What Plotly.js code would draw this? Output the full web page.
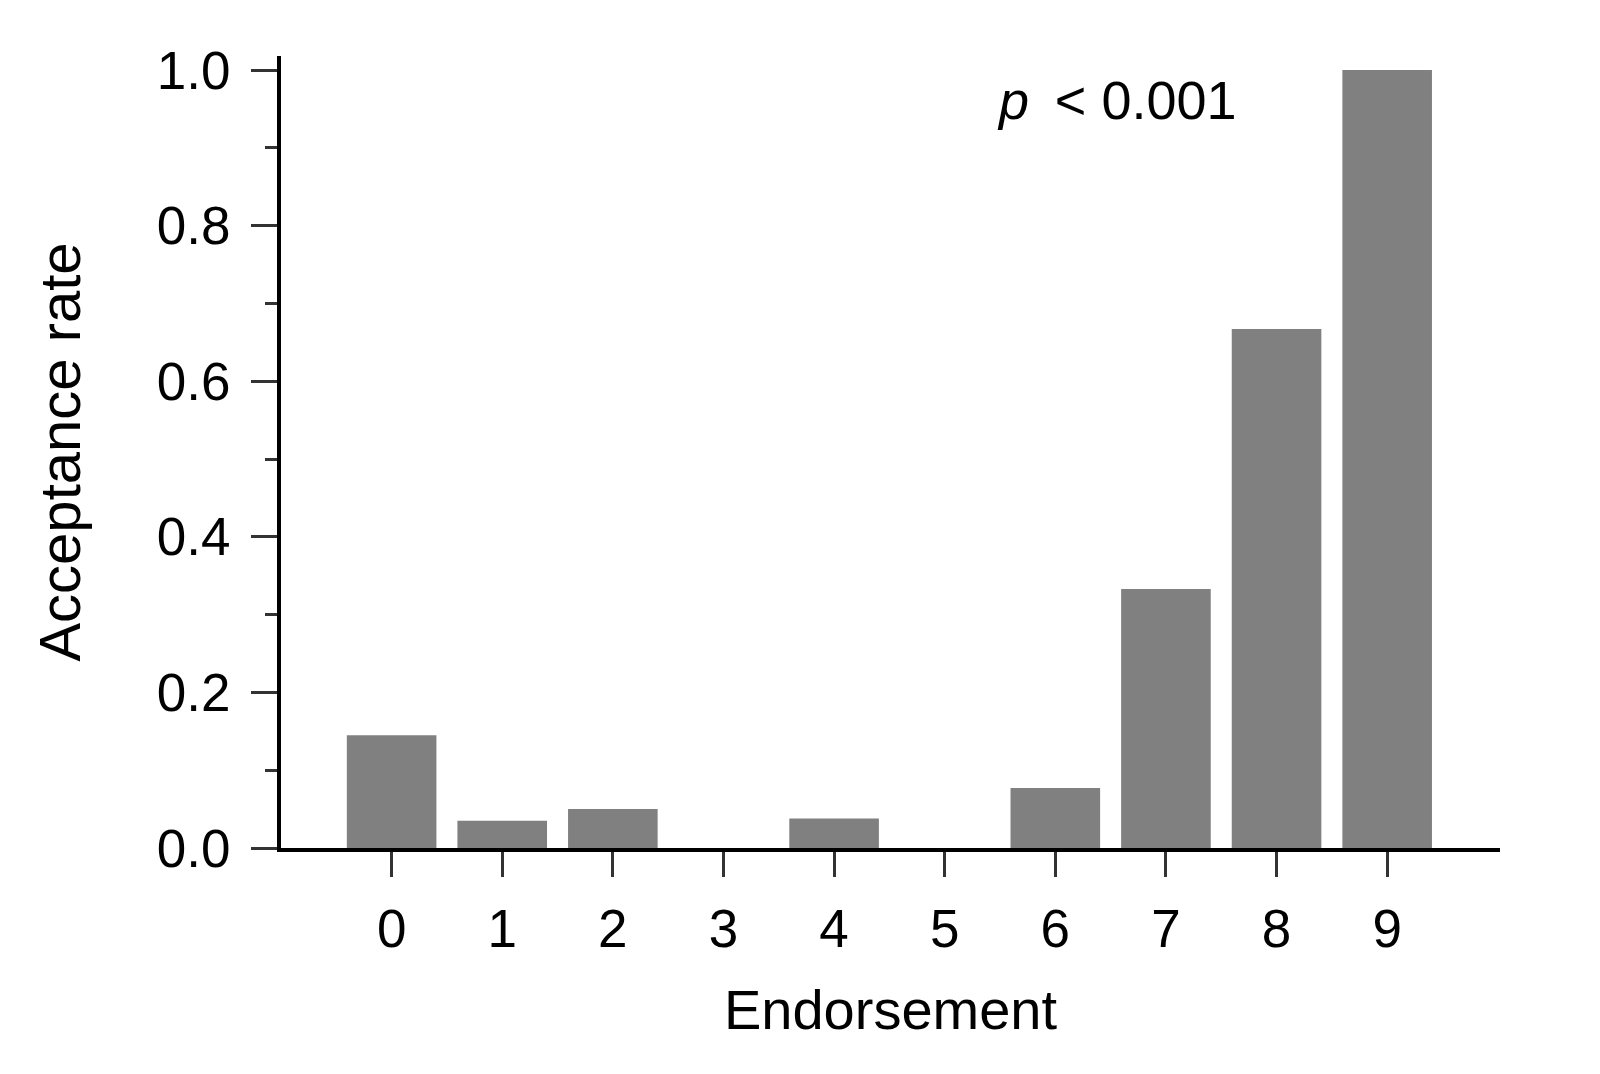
<!DOCTYPE html>
<html>
<head>
<meta charset="utf-8">
<script src="https://cdn.plot.ly/plotly-3.0.1.min.js"></script>
<style>html,body{margin:0;padding:0;background:#fff;}#chart{width:1600px;height:1074px;}</style>
</head>
<body>
<div id="chart"></div>
<script>
const endorsement = [0, 1, 2, 3, 4, 5, 6, 7, 8, 9];
const acceptanceRate = [0.145, 0.035, 0.050, 0, 0.038, 0, 0.077, 0.333, 0.667, 1.0];
const yTickVals = [0.0, 0.2, 0.4, 0.6, 0.8, 1.0];
const yTickText = ["0.0", "0.2", "0.4", "0.6", "0.8", "1.0"];
const pText = "<i>p</i> \u2009< 0.001";

const font = "Liberation Sans, Arial, sans-serif";

const trace = {
  type: "bar",
  x: endorsement,
  y: acceptanceRate,
  marker: {color: "#808080", line: {width: 0}},
  hoverinfo: "x+y"
};

const layout = {
  width: 1600,
  height: 1074,
  paper_bgcolor: "#ffffff",
  plot_bgcolor: "#ffffff",
  margin: {l: 281, r: 100, t: 56, b: 226, pad: 0},
  bargap: 0.19,
  showlegend: false,
  font: {family: font, color: "#000000"},
  xaxis: {
    range: [-1, 10.02],
    tickmode: "array",
    tickvals: endorsement,
    ticktext: endorsement.map(String),
    ticks: "outside",
    ticklen: 25,
    tickwidth: 3,
    tickcolor: "#333333",
    tickfont: {family: font, size: 53, color: "#000000"},
    ticklabelstandoff: 6,
    showline: true,
    linecolor: "#000000",
    linewidth: 4,
    showgrid: false,
    zeroline: false,
    title: {text: "Endorsement", font: {family: font, size: 56, color: "#000000"}, standoff: 34}
  },
  yaxis: {
    range: [0, 1.018],
    tickmode: "array",
    tickvals: yTickVals,
    ticktext: yTickText,
    ticks: "outside",
    ticklen: 26,
    tickwidth: 3,
    tickcolor: "#333333",
    tickfont: {family: font, size: 53, color: "#000000"},
    ticklabelstandoff: 10,
    minor: {dtick: 0.1, tick0: 0, ticks: "outside", ticklen: 12, tickwidth: 3, tickcolor: "#333333", showgrid: false},
    showline: true,
    linecolor: "#000000",
    linewidth: 4,
    showgrid: false,
    zeroline: false,
    title: {text: "Acceptance rate", font: {family: font, size: 58, color: "#000000"}, standoff: 58}
  },
  annotations: [{
    text: pText,
    xref: "paper", yref: "paper",
    x: 0.586, y: 0.944,
    xanchor: "left", yanchor: "middle",
    showarrow: false,
    font: {family: font, size: 54, color: "#000000"}
  }]
};

Plotly.newPlot("chart", [trace], layout, {displayModeBar: false, staticPlot: true});
</script>
</body>
</html>
